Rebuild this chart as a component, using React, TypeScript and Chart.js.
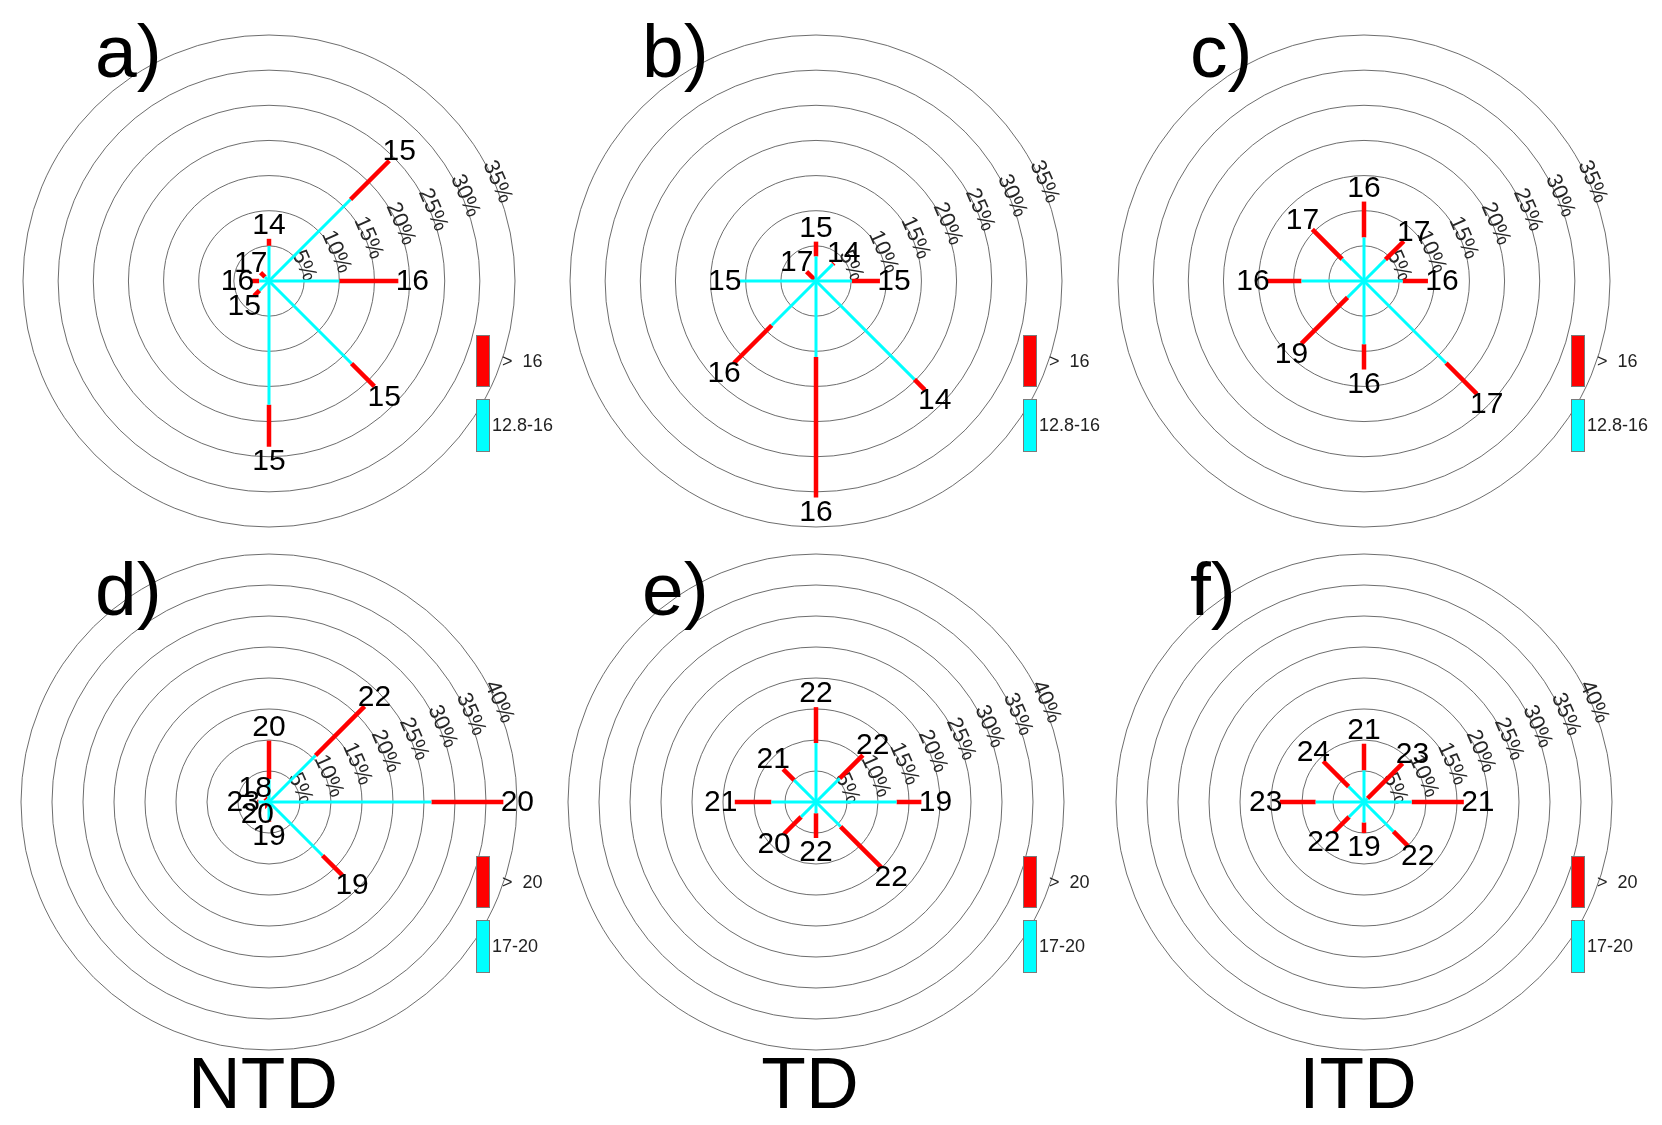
import React, { useEffect, useRef } from "react";
import { Chart, registerables } from "chart.js";

Chart.register(...registerables);

// ---------- data ----------
const directions = ["N", "NE", "E", "SE", "S", "SW", "W", "NW"];
const directionBearings = [0, 45, 90, 135, 180, 225, 270, 315];

const ringsTop = [5, 10, 15, 20, 25, 30, 35];
const ringsBottom = [5, 10, 15, 20, 25, 30, 35, 40];

const panelTitles = ["a)", "b)", "c)", "d)", "e)", "f)"];
const groupLabels = ["NTD", "TD", "ITD"];

const legendTopLow = "12.8-16";
const legendTopHigh = ">  16";
const legendBottomLow = "17-20";
const legendBottomHigh = ">  20";

// frequency (%) reached by the lower speed class (cyan) and total (cyan + red), order N..NW
const aLow = [5.0, 16.4, 10.0, 16.6, 17.6, 1.9, 1.4, 0.8];
const aTotal = [6.0, 24.2, 18.4, 21.2, 23.6, 3.0, 2.5, 1.7];
const aSpeed = ["14", "15", "16", "15", "15", "15", "16", "17"];

const bLow = [3.5, 3.4, 5.1, 19.8, 10.8, 8.9, 10.9, 0.3];
const bTotal = [5.6, 3.6, 9.1, 21.9, 30.8, 16.5, 11.0, 1.9];
const bSpeed = ["15", "14", "15", "14", "16", "16", "15", "17"];

const cLow = [6.2, 4.3, 5.5, 16.5, 9.0, 3.3, 8.9, 4.4];
const cTotal = [11.3, 8.0, 9.1, 22.7, 12.6, 12.6, 13.8, 10.4];
const cSpeed = ["16", "17", "16", "17", "16", "19", "16", "17"];

const dLow = [3.7, 10.6, 26.2, 12.2, 3.0, 0.3, 1.7, 0.6];
const dTotal = [9.9, 21.8, 37.8, 16.7, 3.2, 0.4, 1.9, 0.9];
const dSpeed = ["20", "22", "20", "19", "19", "20", "23", "18"];

const eLow = [9.5, 5.4, 13.0, 5.6, 1.8, 3.4, 7.2, 5.0];
const eTotal = [15.3, 10.7, 17.0, 14.9, 5.8, 7.3, 13.1, 7.5];
const eSpeed = ["22", "22", "19", "22", "22", "20", "21", "21"];

const fLow = [5.1, 0.8, 7.7, 6.7, 3.3, 3.4, 7.8, 3.5];
const fTotal = [9.4, 8.8, 16.1, 10.0, 5.0, 6.9, 13.6, 9.3];
const fSpeed = ["21", "23", "21", "22", "19", "22", "23", "24"];

// ---------- layout ----------
const FONT = '"Liberation Sans", Arial, Helvetica, sans-serif';
const PANEL_CX = [269, 816, 1364];
const ROW_CY = [281, 802];
const ROW_TOP = [0, 545];
const ROW_H = [545, 580];
const ROW_PX_PER_PCT = [246 / 35, 248 / 40];
const ROW_TITLE_DY = [-204, -187];
const CANVAS_W = 560;
const CANVAS_OX = 268;

type PanelCfg = {
  title: string;
  low: number[];
  total: number[];
  speed: string[];
  rings: number[];
  legendLow: string;
  legendHigh: string;
  footer: string;
  col: number;
  row: number;
};

const panels: PanelCfg[] = [
  { title: panelTitles[0], low: aLow, total: aTotal, speed: aSpeed, rings: ringsTop, legendLow: legendTopLow, legendHigh: legendTopHigh, footer: "", col: 0, row: 0 },
  { title: panelTitles[1], low: bLow, total: bTotal, speed: bSpeed, rings: ringsTop, legendLow: legendTopLow, legendHigh: legendTopHigh, footer: "", col: 1, row: 0 },
  { title: panelTitles[2], low: cLow, total: cTotal, speed: cSpeed, rings: ringsTop, legendLow: legendTopLow, legendHigh: legendTopHigh, footer: "", col: 2, row: 0 },
  { title: panelTitles[3], low: dLow, total: dTotal, speed: dSpeed, rings: ringsBottom, legendLow: legendBottomLow, legendHigh: legendBottomHigh, footer: groupLabels[0], col: 0, row: 1 },
  { title: panelTitles[4], low: eLow, total: eTotal, speed: eSpeed, rings: ringsBottom, legendLow: legendBottomLow, legendHigh: legendBottomHigh, footer: groupLabels[1], col: 1, row: 1 },
  { title: panelTitles[5], low: fLow, total: fTotal, speed: fSpeed, rings: ringsBottom, legendLow: legendBottomLow, legendHigh: legendBottomHigh, footer: groupLabels[2], col: 2, row: 1 },
];

function WindRose({ cfg }: { cfg: PanelCfg }) {
  const ref = useRef<HTMLCanvasElement | null>(null);
  const H = ROW_H[cfg.row];
  const top = ROW_TOP[cfg.row];
  const left = PANEL_CX[cfg.col] - CANVAS_OX;

  useEffect(() => {
    if (!ref.current) return;
    const k = ROW_PX_PER_PCT[cfg.row];
    const ox = CANVAS_OX;
    const oy = ROW_CY[cfg.row] - top;

    const datasets: any[] = [];
    cfg.low.forEach((c, i) => {
      const th = (directionBearings[i] * Math.PI) / 180;
      const s = Math.sin(th);
      const co = Math.cos(th);
      datasets.push({
        label: directions[i] + " low",
        data: [
          { x: 0, y: 0 },
          { x: c * s, y: c * co },
        ],
        borderColor: "#00ffff",
        backgroundColor: "#00ffff",
        borderWidth: 3,
        showLine: true,
        pointRadius: 0,
        borderCapStyle: "butt",
      });
    });
    cfg.total.forEach((t, i) => {
      const c = cfg.low[i];
      if (t <= c) return;
      const th = (directionBearings[i] * Math.PI) / 180;
      const s = Math.sin(th);
      const co = Math.cos(th);
      datasets.push({
        label: directions[i] + " high",
        data: [
          { x: c * s, y: c * co },
          { x: t * s, y: t * co },
        ],
        borderColor: "#ff0000",
        backgroundColor: "#ff0000",
        borderWidth: 4.5,
        showLine: true,
        pointRadius: 0,
        borderCapStyle: "butt",
      });
    });

    const decor = {
      id: "roseDecor",
      beforeDatasetsDraw(chart: any) {
        const ctx = chart.ctx;
        const xs = chart.scales.x;
        const ys = chart.scales.y;
        const cx = xs.getPixelForValue(0);
        const cy = ys.getPixelForValue(0);
        const pxPerPct = xs.getPixelForValue(1) - cx;
        ctx.save();
        ctx.strokeStyle = "#5c5c5c";
        ctx.lineWidth = 0.9;
        cfg.rings.forEach((r) => {
          ctx.beginPath();
          ctx.arc(cx, cy, r * pxPerPct, 0, Math.PI * 2);
          ctx.stroke();
        });
        // ring labels, along the circles
        ctx.fillStyle = "#262626";
        ctx.font = "22px " + FONT;
        ctx.textAlign = "center";
        ctx.textBaseline = "middle";
        cfg.rings.forEach((r) => {
          const phi = (23.5 * Math.PI) / 180;
          const rad = r * pxPerPct + 3;
          const px = cx + rad * Math.cos(phi);
          const py = cy - rad * Math.sin(phi);
          ctx.save();
          ctx.translate(px, py);
          ctx.rotate(Math.PI / 2 - phi);
          ctx.fillText(r + "%", 0, 0);
          ctx.restore();
        });
        ctx.restore();
      },
      afterDatasetsDraw(chart: any) {
        const ctx = chart.ctx;
        const xs = chart.scales.x;
        const ys = chart.scales.y;
        const cx = xs.getPixelForValue(0);
        const cy = ys.getPixelForValue(0);
        ctx.save();
        // speed labels at spoke ends
        ctx.fillStyle = "#000";
        ctx.font = "30px " + FONT;
        ctx.textAlign = "center";
        ctx.textBaseline = "middle";
        cfg.total.forEach((t, i) => {
          const th = (directionBearings[i] * Math.PI) / 180;
          const s = Math.sin(th);
          const co = Math.cos(th);
          const ex = xs.getPixelForValue(t * s);
          const ey = ys.getPixelForValue(t * co);
          ctx.fillText(cfg.speed[i], ex + 14 * s, ey - 14 * co + 1);
        });
        // panel title
        ctx.font = "75px " + FONT;
        ctx.textAlign = "left";
        ctx.textBaseline = "alphabetic";
        ctx.fillText(cfg.title, cx - 174, cy + ROW_TITLE_DY[cfg.row]);
        // legend
        ctx.lineWidth = 1;
        ctx.strokeStyle = "#7a7a7a";
        ctx.fillStyle = "#ff0000";
        ctx.fillRect(cx + 207, cy + 54, 13, 51);
        ctx.strokeRect(cx + 207.5, cy + 54.5, 13, 51);
        ctx.fillStyle = "#00ffff";
        ctx.fillRect(cx + 207, cy + 118, 13, 52);
        ctx.strokeRect(cx + 207.5, cy + 118.5, 13, 52);
        ctx.fillStyle = "#222";
        ctx.font = "18px " + FONT;
        ctx.textBaseline = "middle";
        ctx.fillText(cfg.legendHigh, cx + 233, cy + 81);
        ctx.fillText(cfg.legendLow, cx + 223, cy + 145);
        // group label
        if (cfg.footer) {
          ctx.fillStyle = "#000";
          ctx.font = "73px " + FONT;
          ctx.textAlign = "center";
          ctx.textBaseline = "alphabetic";
          ctx.fillText(cfg.footer, cx - 6, cy + 306);
        }
        ctx.restore();
      },
    };

    const chart = new Chart(ref.current, {
      type: "scatter",
      data: { datasets },
      options: {
        animation: false,
        responsive: false,
        maintainAspectRatio: false,
        events: [],
        layout: { padding: 0 },
        plugins: {
          legend: { display: false },
          tooltip: { enabled: false },
          title: { display: false },
        },
        scales: {
          x: { type: "linear", display: false, bounds: "data", min: -ox / k, max: (CANVAS_W - ox) / k },
          y: { type: "linear", display: false, bounds: "data", min: -(H - oy) / k, max: oy / k },
        },
      },
      plugins: [decor],
    } as any);
    return () => chart.destroy();
  }, []);

  return (
    <canvas
      ref={ref}
      width={CANVAS_W}
      height={H}
      style={{ position: "absolute", left, top, width: CANVAS_W, height: H }}
    />
  );
}

export default function App() {
  return (
    <div style={{ position: "absolute", left: 0, top: 0, width: 1662, height: 1125, background: "#fff", overflow: "hidden" }}>
      {panels.map((p) => (
        <WindRose key={p.title} cfg={p} />
      ))}
    </div>
  );
}
